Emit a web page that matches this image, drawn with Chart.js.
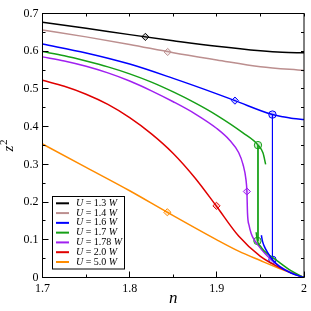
<!DOCTYPE html>
<html>
<head>
<meta charset="utf-8">
<script src="https://cdn.jsdelivr.net/npm/chart.js@4.4.0/dist/chart.umd.min.js"></script>
<style>
  html, body { margin: 0; padding: 0; background: #fff; }
  #chart { display: block; }
</style>
</head>
<body>
<canvas id="chart" width="311" height="311"></canvas>
<script>
const uLabels = ['1.3', '1.4', '1.6', '1.7', '1.78', '2.0', '5.0'];

const nU13 = [1.7, 1.75, 1.8, 1.85, 1.9, 1.95, 1.975, 2.0];
const zU13 = [0.677, 0.661, 0.644, 0.628, 0.613, 0.601, 0.597, 0.596];

const nU14 = [1.7, 1.75, 1.8, 1.85, 1.9, 1.95, 2.0];
const zU14 = [0.656, 0.638, 0.618, 0.596, 0.577, 0.559, 0.549];

const nU16 = [1.7, 1.75, 1.8, 1.85, 1.9, 1.9208, 1.9638, 1.975, 1.9875, 2.0];
const zU16 = [0.619, 0.5955, 0.566, 0.528, 0.487, 0.469, 0.432, 0.4265, 0.4215, 0.419];
const nU16low = [1.9511, 1.9525, 1.955, 1.958, 1.9638, 1.972, 1.985, 2.0];
const zU16low = [0.112, 0.095, 0.08, 0.067, 0.047, 0.029, 0.012, 0];

const nU17 = [1.7, 1.725, 1.75, 1.775, 1.8, 1.825, 1.85, 1.875, 1.9, 1.93, 1.9474, 1.953, 1.956];
const zU17 = [0.599, 0.588, 0.574, 0.5585, 0.540, 0.518, 0.492, 0.463, 0.430, 0.3835, 0.351, 0.33, 0.30];
const nU17low = [1.9451, 1.9466, 1.95, 1.9542, 1.9693, 1.985, 2.0];
const zU17low = [0.120, 0.097, 0.083, 0.071, 0.044, 0.018, 0];

const nU178 = [1.7, 1.725, 1.75, 1.775, 1.8, 1.825, 1.85, 1.875, 1.9, 1.915, 1.925, 1.93, 1.9335, 1.9345,
  1.9352, 1.937, 1.9395, 1.943, 1.9466, 1.952, 1.958, 1.965, 1.973, 1.985, 2.0];
const zU178 = [0.585, 0.574, 0.560, 0.5425, 0.521, 0.495, 0.466, 0.434, 0.395, 0.3635, 0.3315, 0.30, 0.258, 0.228,
  0.17, 0.138, 0.116, 0.099, 0.088, 0.072, 0.057, 0.042, 0.028, 0.013, 0];

const nU20 = [1.7, 1.725, 1.75, 1.775, 1.8, 1.825, 1.85, 1.875, 1.8996, 1.925, 1.95, 1.975, 2.0];
const zU20 = [0.523, 0.507, 0.486, 0.459, 0.424, 0.381, 0.329, 0.264, 0.189, 0.110, 0.056, 0.023, 0];

const nU50 = [1.7, 1.75, 1.8, 1.8432, 1.9, 1.925, 1.95, 1.975, 2.0];
const zU50 = [0.354, 0.292, 0.230, 0.173, 0.100, 0.070, 0.045, 0.021, 0];

// vertical jumps between the two branches
const jumpN = [1.9638, 1.9472];
const jumpTop = [0.432, 0.351];
const jumpBottom = [0.047, 0.097];
const jumpSeries = [2, 3];

const diamondN = [1.818, 1.8436, 1.9208, 1.9345, 1.8996, 1.8432];
const diamondZ = [0.638, 0.598, 0.469, 0.228, 0.190, 0.173];
const diamondSeries = [0, 1, 2, 4, 5, 6];

const circleN = [1.9638, 1.9638, 1.9472, 1.9466];
const circleZ = [0.432, 0.047, 0.351, 0.097];
const circleSeries = [2, 2, 3, 3];

const xTicks = [1.7, 1.8, 1.9, 2.0];
const yTicks = [0, 0.1, 0.2, 0.3, 0.4, 0.5, 0.6, 0.7];

const colors = ['#000000', '#bc8f8f', '#0000ff', '#16a016', '#a020f0', '#e00000', '#ff8c00'];
const FONT = "'Liberation Serif', 'DejaVu Serif', serif";

function toPoints(ns, zs) {
  return ns.map((n, i) => ({ x: n, y: zs[i] }));
}

function curve(ns, zs, series) {
  return {
    data: toPoints(ns, zs),
    showLine: true,
    borderColor: colors[series],
    borderWidth: 1.5,
    pointRadius: 0,
    cubicInterpolationMode: 'monotone',
    fill: false,
  };
}

function fade(hex) {
  return hex + '33';
}

const datasets = [
  curve(nU13, zU13, 0),
  curve(nU14, zU14, 1),
  curve(nU16, zU16, 2),
  curve(nU16low, zU16low, 2),
  curve(nU17, zU17, 3),
  curve(nU17low, zU17low, 3),
  curve(nU178, zU178, 4),
  curve(nU20, zU20, 5),
  curve(nU50, zU50, 6),
];

jumpN.forEach((n, i) => {
  datasets.push({
    data: [{ x: n, y: jumpTop[i] }, { x: n, y: jumpBottom[i] }],
    showLine: true,
    borderColor: colors[jumpSeries[i]],
    borderWidth: 1,
    pointRadius: 0,
  });
});

datasets.push({
  data: toPoints(diamondN, diamondZ),
  showLine: false,
  pointStyle: 'rectRot',
  pointRadius: 3.6,
  pointBorderWidth: 1,
  pointBorderColor: diamondSeries.map((s) => colors[s]),
  pointBackgroundColor: diamondSeries.map((s) => fade(colors[s])),
});

datasets.push({
  data: toPoints(circleN, circleZ),
  showLine: false,
  pointStyle: 'circle',
  pointRadius: 3.7,
  pointBorderWidth: 1,
  pointBorderColor: circleSeries.map((s) => colors[s]),
  pointBackgroundColor: circleSeries.map((s) => fade(colors[s])),
});

function crisp(v) {
  return Math.round(v - 0.5) + 0.5;
}

const framePlugin = {
  id: 'frame',
  afterDraw(chart) {
    const { ctx, chartArea: area, scales } = chart;
    const xs = scales.x;
    const ys = scales.y;
    ctx.save();
    ctx.strokeStyle = '#000';
    ctx.lineWidth = 1;
    ctx.strokeRect(area.left, area.top, area.right - area.left, area.bottom - area.top);

    ctx.beginPath();
    for (let k = 0; k <= 6; k++) {
      const v = 1.7 + k * 0.05;
      const px = crisp(xs.getPixelForValue(v));
      const major = k % 2 === 0;
      ctx.moveTo(px, area.bottom);
      ctx.lineTo(px, area.bottom - (major ? 6 : 3));
      ctx.moveTo(px, area.top);
      ctx.lineTo(px, area.top + 3);
    }
    for (let k = 0; k <= 14; k++) {
      const v = k * 0.05;
      const py = crisp(ys.getPixelForValue(v));
      const major = k % 2 === 0;
      ctx.moveTo(area.left, py);
      ctx.lineTo(area.left + (major ? 6 : 3), py);
      ctx.moveTo(area.right, py);
      ctx.lineTo(area.right - 3, py);
    }
    ctx.stroke();

    // axis titles
    ctx.fillStyle = '#000';
    ctx.font = `italic 17px ${FONT}`;
    ctx.textAlign = 'center';
    ctx.textBaseline = 'alphabetic';
    ctx.fillText('n', (area.left + area.right) / 2, 303);

    ctx.translate(13, (area.top + area.bottom) / 2);
    ctx.rotate(-Math.PI / 2);
    ctx.textAlign = 'left';
    ctx.font = `italic 15px ${FONT}`;
    const zw = ctx.measureText('z').width;
    const total = zw + 6;
    ctx.fillText('z', -total / 2, 0);
    ctx.font = `11px ${FONT}`;
    ctx.fillText('2', -total / 2 + zw + 0.5, -6);
    ctx.restore();

    // legend box
    ctx.save();
    ctx.fillStyle = '#fff';
    ctx.fillRect(52.5, 196.5, 72, 72.5);
    ctx.strokeStyle = '#000';
    ctx.lineWidth = 1;
    ctx.strokeRect(52.5, 196.5, 72, 72.5);
    ctx.textBaseline = 'middle';
    ctx.textAlign = 'left';
    uLabels.forEach((label, i) => {
      const y = 203.3 + i * 9.78;
      ctx.strokeStyle = colors[i];
      ctx.lineWidth = 2;
      ctx.beginPath();
      ctx.moveTo(56, y);
      ctx.lineTo(69, y);
      ctx.stroke();
      ctx.fillStyle = '#000';
      let x = 76;
      ctx.font = `italic 10px ${FONT}`;
      ctx.fillText('U', x, y);
      x += ctx.measureText('U').width;
      ctx.font = `10px ${FONT}`;
      const mid = ` = ${label} `;
      ctx.fillText(mid, x, y);
      x += ctx.measureText(mid).width;
      ctx.font = `italic 10px ${FONT}`;
      ctx.fillText('W', x, y);
    });
    ctx.restore();
  },
};

const tickFont = { family: FONT, size: 12 };

new Chart(document.getElementById('chart'), {
  type: 'scatter',
  data: { datasets },
  options: {
    responsive: false,
    animation: false,
    layout: { padding: { top: 13.5, right: 4.5, left: 0, bottom: 0 } },
    plugins: { legend: { display: false }, tooltip: { enabled: false } },
    scales: {
      x: {
        type: 'linear',
        min: 1.7,
        max: 2.0,
        afterFit: (scale) => { scale.height = 33.5; },
        afterBuildTicks: (scale) => { scale.ticks = xTicks.map((v) => ({ value: v })); },
        grid: { display: false, drawTicks: false },
        border: { display: false },
        ticks: {
          font: tickFont,
          color: '#000',
          padding: 4,
          maxRotation: 0,
          callback: (v) => (v === 2 ? '2' : v.toFixed(1)),
        },
      },
      y: {
        type: 'linear',
        min: 0,
        max: 0.7,
        afterFit: (scale) => { scale.width = 42.5; },
        afterBuildTicks: (scale) => { scale.ticks = yTicks.map((v) => ({ value: v })); },
        grid: { display: false, drawTicks: false },
        border: { display: false },
        ticks: {
          font: tickFont,
          color: '#000',
          padding: 4,
          callback: (v) => (v === 0 ? '0' : v.toFixed(1)),
        },
      },
    },
  },
  plugins: [framePlugin],
});
</script>
</body>
</html>
